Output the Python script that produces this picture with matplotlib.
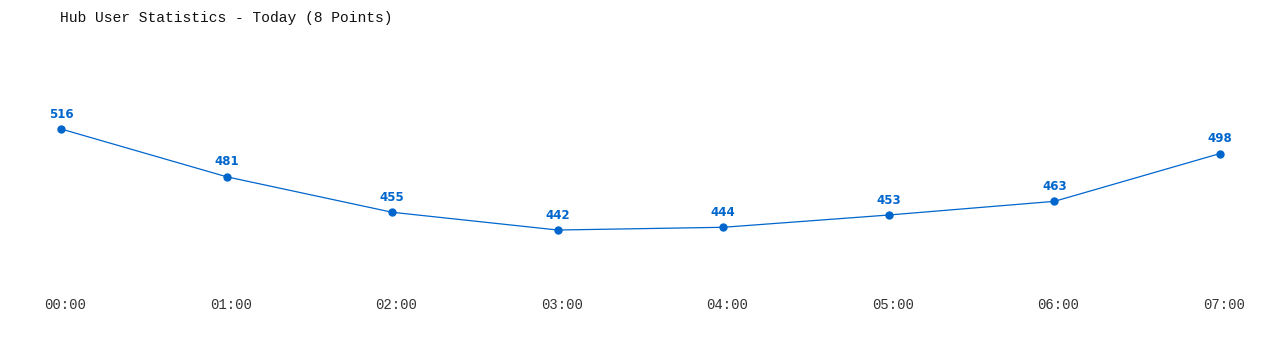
import matplotlib.pyplot as plt
import matplotlib.transforms as mtransforms

# Data
hours = ["00:00", "01:00", "02:00", "03:00", "04:00", "05:00", "06:00", "07:00"]
users = [516, 481, 455, 442, 444, 453, 463, 498]

W, H = 1280, 350
fig = plt.figure(figsize=(W / 100, H / 100), dpi=100)

# axes placed in pixel terms: first point at x=61, last at x=1220
left, right = 61 / W, 1220 / W
bottom, top = 1 - 280 / H, 1 - 60 / H
ax = fig.add_axes([left, bottom, right - left, top - bottom])

xs = list(range(len(hours)))
ax.plot(xs, users, color="#0066cc", linewidth=0.9, marker="o", markersize=5,
        clip_on=False)

for x, v in zip(xs, users):
    ax.annotate(str(v), (x, v), xytext=(0, 6), textcoords="offset points",
                ha="center", va="bottom", color="#0066cc", fontsize=8.5,
                fontweight="bold", family="DejaVu Sans")

ax.set_xlim(0, len(hours) - 1)
ax.set_ylim(405.4, 566.5)

ax.set_xticks(xs)
ax.set_xticklabels(hours, family="Liberation Mono", fontsize=10, color="#333333")
ax.tick_params(axis="x", length=0, pad=13)
# tick labels sit a few pixels right of the points in the original
shift = mtransforms.ScaledTranslation(4 / 100, 0, fig.dpi_scale_trans)
for lab in ax.get_xticklabels():
    lab.set_transform(lab.get_transform() + shift)
ax.set_yticks([])
for s in ax.spines.values():
    s.set_visible(False)

fig.text(60 / W, 1 - 18 / H, "Hub User Statistics - Today (8 Points)",
         family="Liberation Mono", fontsize=10.5, color="#111111", va="center")

plt.savefig("out.png", dpi=100)
